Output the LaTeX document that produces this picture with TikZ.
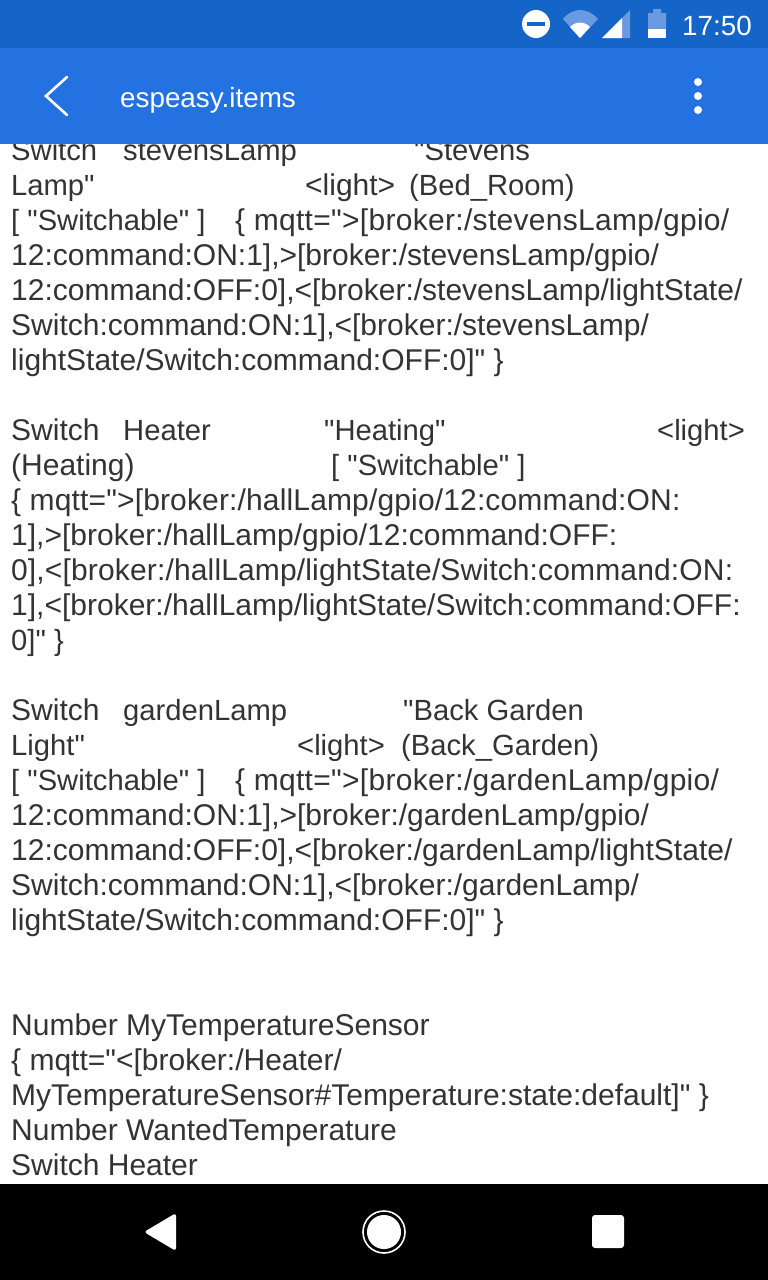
\documentclass[tikz,border=0pt]{standalone}
\usepackage{fontspec}
\newfontfamily\codefont{Liberation Sans}
\newfontfamily\widefont[LetterSpace=1.0]{Liberation Sans}
\newfontfamily\slightfont[LetterSpace=0.5]{Liberation Sans}
\setmainfont{Liberation Sans}
\usetikzlibrary{positioning}
\definecolor{statusblue}{HTML}{1565C8}
\definecolor{barblue}{HTML}{2472E2}
\definecolor{fadeblue}{HTML}{6A9BE0}
\definecolor{codegrey}{HTML}{333333}
\tikzset{
    codeline/.style = {anchor=base west, inner sep=0pt, text=codegrey, font=\codefont\fontsize{30}{35}\selectfont},
    codeword/.style = {codeline, font=\codefont\fontsize{29.2}{35}\selectfont},
    codewide/.style = {codeline, font=\widefont\fontsize{30}{35}\selectfont},
    codeslight/.style = {codeline, font=\slightfont\fontsize{30}{35}\selectfont},
    bartext/.style = {anchor=base west, inner sep=0pt, text=white, font=\fontsize{27.8}{28}\selectfont},
    icon/.style = {fill=white, draw=none},
    fadeicon/.style = {fill=fadeblue, draw=none}
}
\begin{document}
\begin{tikzpicture}[x=1pt, y=-1pt]
    \useasboundingbox (0,0) rectangle (768,1280);
    \fill[white] (0,0) rectangle (768,1280);
    % first item
    \node [codeword] (stevensA) at (11,160) {Switch};
    \node [codeword] (stevensB) at (123,160) {stevensLamp};
    \node [codeword] (stevensC) at (414,160) {"Stevens};
    \node [codeword] (stevensD) at (11,195) {Lamp"};
    \node [codeline] (stevensE) at (305,195) {<light>};
    \node [codeword] (stevensF) at (409,195) {(Bed\_Room)};
    \node [codeword] (stevensG) at (11,230) {[ "Switchable" ]};
    \node [codewide] (stevensH) at (235,230) {\{ mqtt=">[broker:/stevensLamp/gpio/};
    \node [codeline] (stevensI) at (11,265) {12:command:ON:1],>[broker:/stevensLamp/gpio/};
    \node [codeline] (stevensJ) at (11,300) {12:command:OFF:0],<[broker:/stevensLamp/lightState/};
    \node [codeline] (stevensK) at (11,335) {Switch:command:ON:1],<[broker:/stevensLamp/};
    \node [codeline] (stevensL) at (11,370) {lightState/Switch:command:OFF:0]" \}};
    % second item
    \node [codeline] (heaterA) at (11,440) {Switch};
    \node [codeword] (heaterB) at (123,440) {Heater};
    \node [codeword] (heaterC) at (324,440) {"Heating"};
    \node [codeword] (heaterD) at (657,440) {<light>};
    \node [codeline] (heaterE) at (11,475) {(Heating)};
    \node [codeword] (heaterF) at (331,475) {[ "Switchable" ]};
    \node [codeslight] (heaterG) at (11,510) {\{ mqtt=">[broker:/hallLamp/gpio/12:command:ON:};
    \node [codeline] (heaterH) at (11,545) {1],>[broker:/hallLamp/gpio/12:command:OFF:};
    \node [codeslight] (heaterI) at (11,580) {0],<[broker:/hallLamp/lightState/Switch:command:ON:};
    \node [codeline] (heaterJ) at (11,615) {1],<[broker:/hallLamp/lightState/Switch:command:OFF:};
    \node [codeword] (heaterK) at (11,650) {0]" \}};
    % third item
    \node [codeline] (gardenA) at (11,720) {Switch};
    \node [codeword] (gardenB) at (123,720) {gardenLamp};
    \node [codeword] (gardenC) at (403,720) {"Back Garden};
    \node [codeword] (gardenD) at (11,755) {Light"};
    \node [codeword] (gardenE) at (297,755) {<light>};
    \node [codeword] (gardenF) at (401,755) {(Back\_Garden)};
    \node [codeword] (gardenG) at (11,790) {[ "Switchable" ]};
    \node [codewide] (gardenH) at (235,790) {\{ mqtt=">[broker:/gardenLamp/gpio/};
    \node [codeline] (gardenI) at (11,825) {12:command:ON:1],>[broker:/gardenLamp/gpio/};
    \node [codeline] (gardenJ) at (11,860) {12:command:OFF:0],<[broker:/gardenLamp/lightState/};
    \node [codeline] (gardenK) at (11,895) {Switch:command:ON:1],<[broker:/gardenLamp/};
    \node [codeline] (gardenL) at (11,930) {lightState/Switch:command:OFF:0]" \}};
    % numbers
    \node [codeline] (numberA) at (11,1035) {Number MyTemperatureSensor};
    \node [codeline] (numberB) at (11,1070) {\{ mqtt="<[broker:/Heater/};
    \node [codeline] (numberC) at (11,1105) {MyTemperatureSensor\#Temperature:state:default]" \}};
    \node [codeline] (numberD) at (11,1140) {Number WantedTemperature};
    \node [codeline] (numberE) at (11,1175) {Switch Heater};
    % bars
    \fill[statusblue] (0,0) rectangle (768,48);
    \fill[barblue] (0,48) rectangle (768,144);
    \fill[black] (0,1184) rectangle (768,1280);
    % status icons
    \fill[icon] (536,24) circle (14);
    \fill[statusblue] (527,22) rectangle (545,26);
    \fill[fadeicon] (580,38) -- (563,19) .. controls (573,7) and (587,7) .. (598,19) -- cycle;
    \fill[icon] (580,38) -- (570,27) .. controls (576,21) and (584,21) .. (590,27) -- cycle;
    \fill[fadeicon] (602,38) -- (630,10) -- (630,38) -- cycle;
    \fill[icon] (602,38) -- (622,18) -- (622,38) -- cycle;
    \fill[fadeicon] (648,13) -- (653,13) -- (653,9) -- (661,9) -- (661,13) -- (666,13) -- (666,29) -- (648,29) -- cycle;
    \fill[icon] (648,29) rectangle (666,38);
    \node [bartext] (clock) at (682,35) {17:50};
    % app bar
    \draw[white, line width=2.6pt, line cap=round, line join=miter] (67,77) -- (46,96) -- (67,115);
    \node [bartext] (title) at (120,107) {espeasy.items};
    \fill[icon] (698,82) circle (4);
    \fill[icon] (698,96) circle (4);
    \fill[icon] (698,110) circle (4);
    % nav bar
    \fill[icon, rounded corners=3pt] (144,1232) -- (176,1213) -- (176,1251) -- cycle;
    \draw[white, line width=1.6pt] (384,1232) circle (21);
    \fill[icon] (384,1232) circle (17);
    \fill[icon, rounded corners=3pt] (592,1215) rectangle (624,1248);
\end{tikzpicture}
\end{document}
